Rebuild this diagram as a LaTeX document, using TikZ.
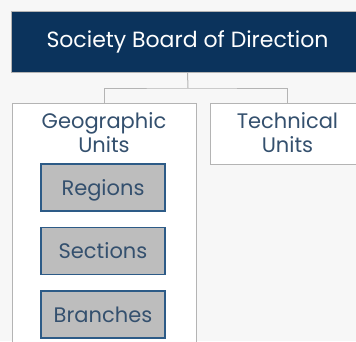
\documentclass[tikz,border=0pt]{standalone}
\usepackage{fontspec}
\setmainfont{Poppins}
\usepackage{tikz}
\usetikzlibrary{positioning}

\definecolor{boardblue}{HTML}{0B335C}
\definecolor{unittext}{HTML}{34506E}
\definecolor{unitedge}{HTML}{2D5B87}
\definecolor{unitfill}{HTML}{BDBDBD}
\definecolor{framegray}{HTML}{B4B4B4}
\definecolor{pagegray}{HTML}{F7F7F7}

\tikzset{
	board/.style={draw=framegray, line width=1pt, fill=boardblue, text=white, font=\fontsize{22}{26}\selectfont, minimum width=353pt, minimum height=61pt, inner sep=0pt},
	group/.style={draw=framegray, line width=1pt, fill=white, inner sep=0pt},
	grouptitle/.style={text=unittext, font=\fontsize{21}{24}\selectfont, align=center, inner sep=0pt},
	unitbox/.style={draw=unitedge, line width=1.5pt, fill=unitfill, text=unittext, font=\fontsize{21}{24}\selectfont, text height=15.5pt, text depth=0pt, minimum width=124pt, minimum height=47pt, inner sep=0pt},
	link/.style={draw=framegray, line width=1pt}
}

\begin{document}
\begin{tikzpicture}[x=1pt,y=-1pt]
			\useasboundingbox (0,0) rectangle (356,341);
			\clip (0,0) rectangle (356,341);
			\fill[pagegray] (0,0) rectangle (356,341);
			% board
			\node[board] (board) at (187.5,41.5) {Society Board of Direction};
			% unit groups
			\node[group, minimum width=184pt, minimum height=250pt, anchor=north] (geo) at (104,103) {};
			\node[group, minimum width=155pt, minimum height=61pt, anchor=north] (tech) at (287.5,103) {};
			\node[grouptitle, anchor=north] (geotitle) at ([yshift=-9pt]geo.north) {Geographic\\Units};
			\node[grouptitle, anchor=north] (techtitle) at ([yshift=-9pt]tech.north) {Technical\\Units};
			% geographic units
			\node[unitbox] (regions) at (103,187.5) {Regions};
			\node[unitbox, below=15pt of regions] (sections) {Sections};
			\node[unitbox, below=15pt of sections] (branches) {Branches};
			% connectors
			\coordinate (split) at (188,88);
			\draw[link] (board.south) -- (split);
			\draw[link] (geo.north) |- (split) -| (tech.north);
		\end{tikzpicture}
\end{document}
